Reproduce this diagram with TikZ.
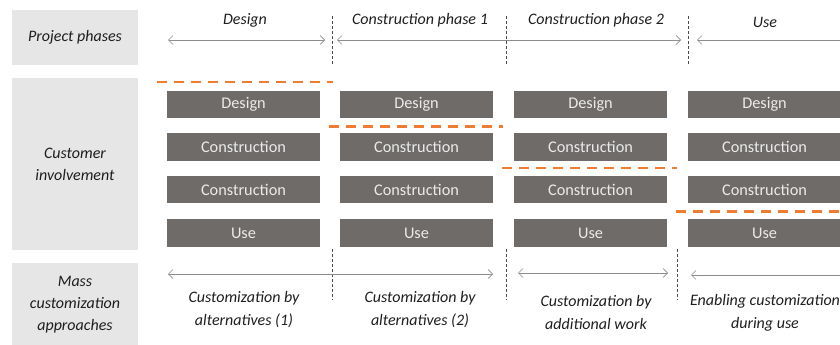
\documentclass[tikz,border=0pt]{standalone}
\usepackage{fontspec}
\setmainfont{Carlito}
\usetikzlibrary{arrows.meta}
\definecolor{boxgrey}{HTML}{6F6B69}
\definecolor{panel}{HTML}{E6E6E6}
\definecolor{orng}{HTML}{EE7D33}
\definecolor{arrgrey}{HTML}{8C8C8C}
\definecolor{txt}{HTML}{1E1E1E}
\tikzset{
  panelbox/.style={fill=panel, draw=none, inner sep=0pt, align=center, text=txt, font=\fontsize{16}{22}\selectfont\itshape},
  actbox/.style={fill=boxgrey, draw=none, minimum width=153pt, minimum height=27.5pt, inner sep=0pt, text=white!92!black, font=\fontsize{16.3}{19}\selectfont},
  lbl/.style={text=txt, font=\fontsize{16}{23}\selectfont\itshape, align=center, inner sep=0pt},
  span/.style={draw=arrgrey, line width=0.6pt, {Straight Barb[length=4.5pt,width=9pt]}-{Straight Barb[length=4.5pt,width=9pt]}},
  spanr/.style={draw=arrgrey, line width=0.6pt, {Straight Barb[length=4.5pt,width=9pt]}-},
  phasesep/.style={draw=black!70, line width=0.7pt, dash pattern=on 3pt off 2pt},
  custline/.style={draw=orng, line width=2.7pt, dash pattern=on 10pt off 7pt}
}
\begin{document}
\begin{tikzpicture}[x=1pt,y=-1pt]
\useasboundingbox (0,0) rectangle (840,345);
\clip (0,0) rectangle (840,345);
% left panels
\node[panelbox, minimum width=126pt, minimum height=55pt] (pp) at (75,37.5) {Project phases};
\node[panelbox, minimum width=126pt, minimum height=172pt] (ci) at (75,164) {Customer\\involvement};
\node[panelbox, minimum width=126pt, minimum height=84pt] (mc) at (75,305) {Mass\\customization\\approaches};
% phase labels
\node[lbl] (ph1) at (245,20) {Design};
\node[lbl] (ph2) at (420,20) {Construction phase 1};
\node[lbl] (ph3) at (596,20) {Construction phase 2};
\node[lbl] (ph4) at (765,22) {Use};
% top spans
\coordinate (t1a) at (168,40); \coordinate (t1b) at (325,40);
\coordinate (t2a) at (337,40); \coordinate (t2b) at (681,40);
\coordinate (t3a) at (697,40); \coordinate (t3b) at (845,40);
\draw[span] (t1a) -- (t1b);
\draw[span] (t2a) -- (t2b);
\draw[spanr] (t3a) -- (t3b);
% vertical separators
\coordinate (v1a) at (332,16); \coordinate (v1b) at (332,65);
\coordinate (v2a) at (506,16); \coordinate (v2b) at (506,65);
\coordinate (v3a) at (688,16); \coordinate (v3b) at (688,65);
\draw[phasesep] (v1a) -- (v1b);
\draw[phasesep] (v2a) -- (v2b);
\draw[phasesep] (v3a) -- (v3b);
\coordinate (w1a) at (332,249); \coordinate (w1b) at (332,300);
\coordinate (w2a) at (506,249); \coordinate (w2b) at (506,300);
\coordinate (w3a) at (677,249); \coordinate (w3b) at (677,300);
\draw[phasesep] (w1a) -- (w1b);
\draw[phasesep] (w2a) -- (w2b);
\draw[phasesep] (w3a) -- (w3b);
% activity boxes
\foreach \c/\x in {1/243.5,2/416.5,3/590.5,4/764.5}{
  \node[actbox] (d\c) at (\x,104.5) {Design};
  \node[actbox] (ca\c) at (\x,147) {Construction};
  \node[actbox] (cb\c) at (\x,189.5) {Construction};
  \node[actbox] (u\c) at (\x,233) {Use};
}
% customer involvement lines
\coordinate (o1a) at (157,82); \coordinate (o1b) at (333,82);
\coordinate (o2a) at (329,126.5); \coordinate (o2b) at (503,126.5);
\coordinate (o3a) at (502,168); \coordinate (o3b) at (677,168);
\coordinate (o4a) at (676,211.5); \coordinate (o4b) at (845,211.5);
\draw[custline] (o1a) -- (o1b);
\draw[custline] (o2a) -- (o2b);
\draw[custline] (o3a) -- (o3b);
\draw[custline] (o4a) -- (o4b);
% bottom spans
\coordinate (b1a) at (168,274); \coordinate (b1b) at (493,274);
\coordinate (b2a) at (518,273); \coordinate (b2b) at (668,273);
\coordinate (b3a) at (691,275); \coordinate (b3b) at (845,275);
\draw[span] (b1a) -- (b1b);
\draw[span] (b2a) -- (b2b);
\draw[spanr] (b3a) -- (b3b);
% approach labels
\node[lbl] (a1) at (244,309.5) {Customization by\\alternatives (1)};
\node[lbl] (a2) at (420,309.5) {Customization by\\alternatives (2)};
\node[lbl] (a3) at (596,313) {Customization by\\additional work};
\node[lbl] (a4) at (765,313) {Enabling customization\\during use};
\end{tikzpicture}
\end{document}
